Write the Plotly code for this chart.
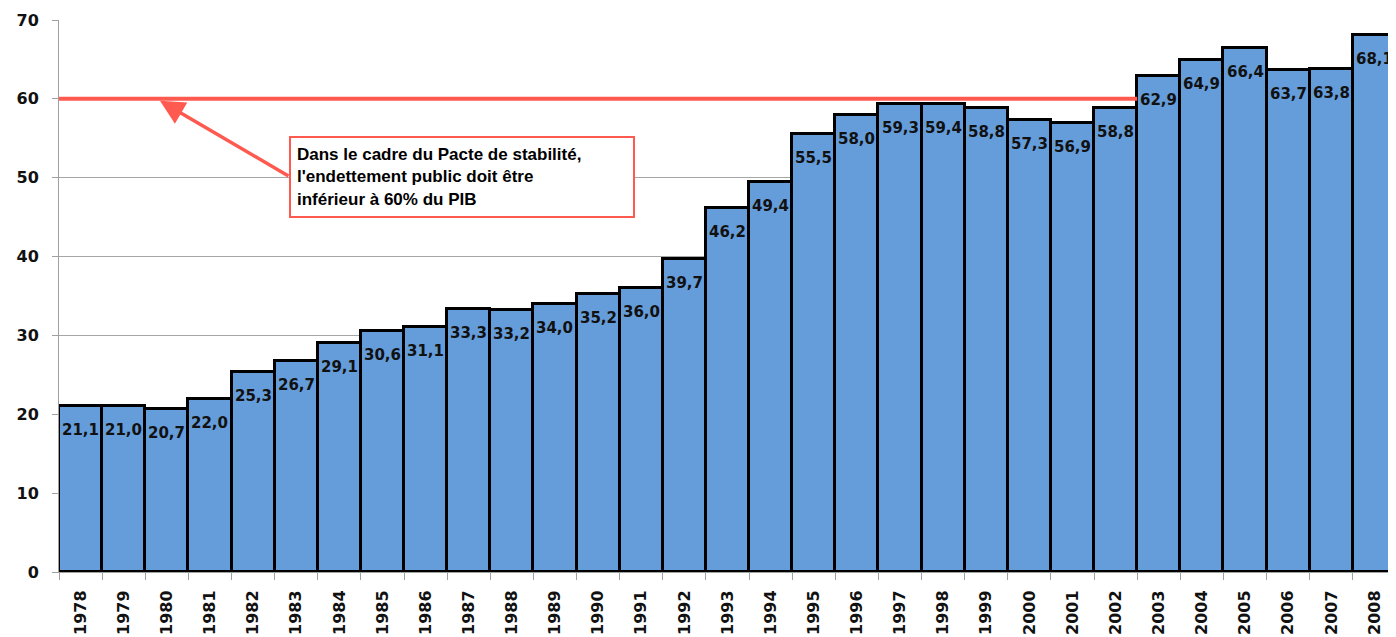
import plotly.graph_objects as go

years = [str(y) for y in range(1978, 2009)]
debt = [21.1, 21.0, 20.7, 22.0, 25.3, 26.7, 29.1, 30.6, 31.1, 33.3, 33.2, 34.0, 35.2, 36.0,
        39.7, 46.2, 49.4, 55.5, 58.0, 59.3, 59.4, 58.8, 57.3, 56.9, 58.8, 62.9, 64.9, 66.4,
        63.7, 63.8, 68.1]
labels = [f"{v:.1f}".replace(".", ",") for v in debt]
y_ticks = [0, 10, 20, 30, 40, 50, 60, 70]
limit = 60
note = "Dans le cadre du Pacte de stabilité,<br>l'endettement public doit être<br>inférieur à 60% du PIB"

RED = "#ff5a4f"
BAR = "#659ddb"

fig = go.Figure()
fig.add_trace(go.Bar(
    x=years, y=debt,
    marker=dict(color=BAR, line=dict(color="#000000", width=3)),
    hoverinfo="x+y",
))

for i, (v, lab) in enumerate(zip(debt, labels)):
    fig.add_annotation(
        x=i, y=v, text=lab, showarrow=False, yanchor="top", yshift=-13,
        font=dict(family="DejaVu Sans", size=15, color="#111111", weight="bold"),
    )

# 60% line: visible until the first bar that rises above it (it passes behind taller bars)
first_above = next(i for i, v in enumerate(debt) if v > limit)
fig.add_shape(type="line", xref="x", x0=-0.5, x1=first_above - 0.5, yref="y", y0=limit, y1=limit,
              line=dict(color=RED, width=4), layer="above")

# arrow
fig.add_annotation(
    xref="paper", x=0.0755, yref="y", y=limit - 0.25, text="", showarrow=True,
    ax=130, ay=76, arrowhead=2, arrowsize=1.4, arrowwidth=3.5, arrowcolor=RED,
)
# text box
fig.add_annotation(
    xref="paper", x=0.3014, yref="y", y=50.15, xanchor="center", yanchor="middle",
    text=note, showarrow=False, align="left", width=330, height=66,
    font=dict(family="Liberation Sans", size=17, color="#000000", weight="bold"),
    bordercolor=RED, borderwidth=2, borderpad=6, bgcolor="#ffffff",
)

fig.update_layout(
    width=1388, height=629,
    margin=dict(l=51, r=0, t=12, b=65),
    paper_bgcolor="#ffffff", plot_bgcolor="#ffffff",
    bargap=0, showlegend=False,
)
fig.update_xaxes(
    type="category", range=[-0.5, len(years) - 0.5], categoryorder="array", categoryarray=years,
    tickson="boundaries", ticks="outside", ticklen=7, tickcolor="#a0a0a0",
    showline=True, linecolor="#a0a0a0", linewidth=1, showgrid=False,
    tickangle=-90, ticklabelstandoff=11, automargin=False,
    tickfont=dict(family="DejaVu Sans", size=16, color="#111111", weight="bold"),
)
fig.update_yaxes(
    range=[0, 70], tickvals=y_ticks, ticks="outside", ticklen=6, tickcolor="#a0a0a0",
    showline=True, linecolor="#a0a0a0", linewidth=1, ticklabelstandoff=10,
    showgrid=True, gridcolor="#a6a6a6", gridwidth=1, zeroline=False, automargin=False,
    tickfont=dict(family="DejaVu Sans", size=16, color="#111111", weight="bold"),
)

fig.write_html("out.html")
